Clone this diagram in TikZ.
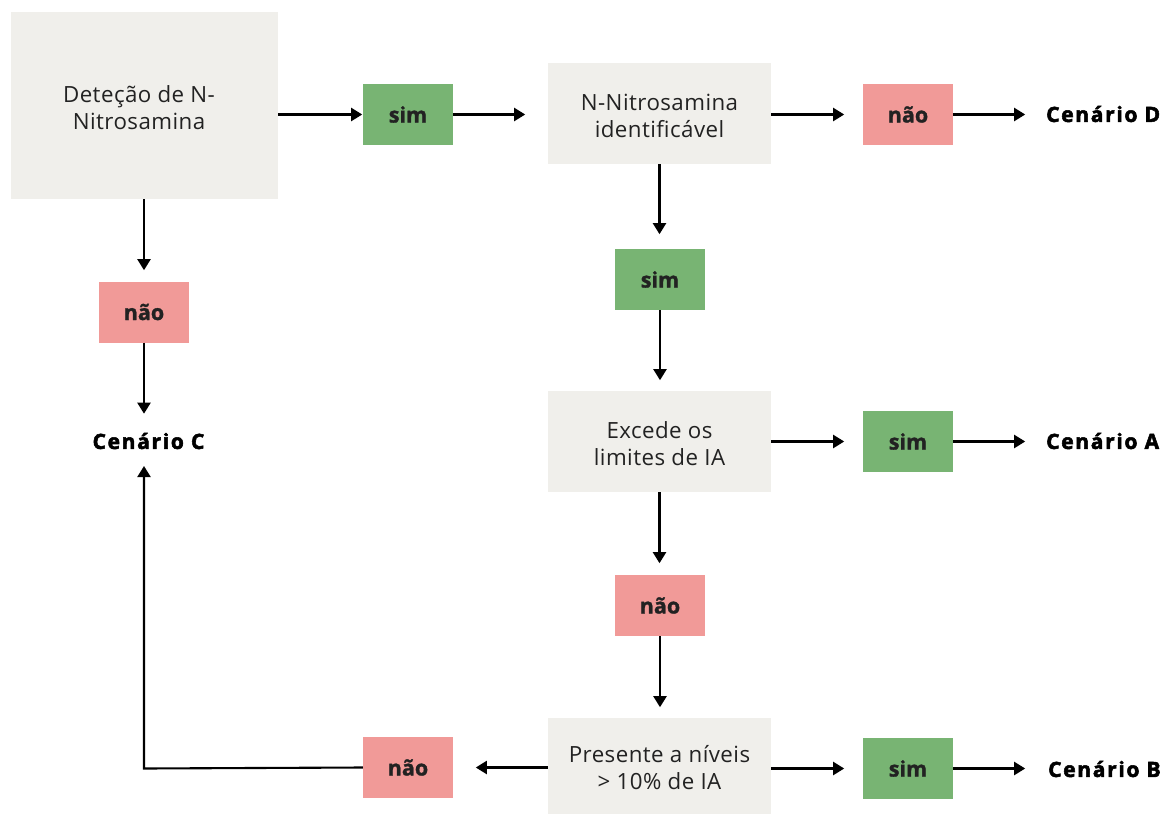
\documentclass[tikz,border=0pt]{standalone}
\usepackage{fontspec}
\setmainfont{Open Sans}
\newfontfamily\spacedfont[LetterSpace=2]{Open Sans}
\newfontfamily\widefont[LetterSpace=8,BoldFeatures={FakeBold=2.5,LetterSpace=8}]{Open Sans}
\newfontfamily\labelfont[BoldFeatures={FakeBold=1.2}]{Open Sans}
\usetikzlibrary{arrows.meta}
\definecolor{boxgrey}{HTML}{F0EFEB}
\definecolor{yesgreen}{HTML}{78B473}
\definecolor{nopink}{HTML}{F19A98}
\definecolor{txt}{HTML}{222222}
\begin{document}
\begin{tikzpicture}[x=1pt,y=-1pt,
  qbox/.style={fill=boxgrey,inner sep=0pt},
  qtext/.style={inner sep=0pt,align=center,text=txt,
    font=\spacedfont\fontsize{22.3}{27}\selectfont},
  yesbox/.style={fill=yesgreen,minimum width=90pt,minimum height=61pt,inner sep=0pt,
    text=txt,font=\labelfont\fontsize{21.5}{24}\bfseries\selectfont},
  nobox/.style={fill=nopink,minimum width=90pt,minimum height=61pt,inner sep=0pt,
    text=txt,font=\labelfont\fontsize{21.5}{24}\bfseries\selectfont},
  scen/.style={inner sep=0pt,text=black,font=\widefont\fontsize{21}{24}\bfseries\selectfont},
  arr/.style={-{Triangle[length=11pt,width=13pt]},line width=2.1pt,black}]
\useasboundingbox (0,0) rectangle (1173,814);
% question boxes
\node[qbox,minimum width=267pt,minimum height=187pt] (det) at (144.5,105.5) {};
\node[qtext] (detT) at (139,108) {Deteção de N-\\Nitrosamina};
\node[qbox,minimum width=223pt,minimum height=101pt] (nn) at (659.5,113.5) {};
\node[qtext] (nnT) at (659.5,115.5) {N-Nitrosamina\\identificável};
\node[qbox,minimum width=223pt,minimum height=101pt] (exc) at (659.5,441.5) {};
\node[qtext] (excT) at (659.5,443.5) {Excede os\\limites de IA};
\node[qbox,minimum width=223pt,minimum height=96pt] (pres) at (659.5,766) {};
\node[qtext] (presT) at (659.5,768) {Presente a níveis\\> 10\% de IA};
% answer boxes
\node[yesbox] (s1) at (408,114.5) {sim};
\node[nobox] (nD) at (908,114.5) {não};
\node[yesbox] (s2) at (660,279.5) {sim};
\node[yesbox] (sA) at (908,441.5) {sim};
\node[nobox] (n2) at (660,605.5) {não};
\node[yesbox] (sB) at (908,768.5) {sim};
\node[nobox] (nL) at (408,767.5) {não};
\node[nobox] (nC) at (144,312) {não};
% scenarios
\node[scen,anchor=west] (cD) at (1046,114) {Cenário D};
\node[scen,anchor=west] (cA) at (1046,441) {Cenário A};
\node[scen,anchor=west] (cB) at (1048,769) {Cenário B};
\node[scen] (cC) at (148.5,441) {Cenário C};
% connectors
\draw[arr] (det.east |- s1) -- ++(84,0);
\draw[arr] (s1.east) -- ++(72,0);
\draw[arr] (nn.east |- nD) -- ++(73,0);
\draw[arr] (nD.east) -- ++(72,0);
\draw[arr] (nn.south) -- ++(0,70);
\draw[arr] (s2.south) -- ++(0,70);
\draw[arr] (exc.east) -- ++(73,0);
\draw[arr] (sA.east) -- ++(72,0);
\draw[arr] (exc.south) -- ++(0,71);
\draw[arr] (n2.south) -- ++(0,71);
\draw[arr] (pres.east |- sB) -- ++(73,0);
\draw[arr] (sB.east) -- ++(72,0);
\draw[arr] (pres.west |- nL) -- ++(-72,0);
\draw[arr] (det.south -| nC) -- ++(0,71);
\draw[arr] (nC.south) -- ++(0,71);
\coordinate (bend) at (144,768.5);
\coordinate (cCin) at (144,466);
\draw[arr] (nL.west) -- (bend) -- (cCin);
\end{tikzpicture}
\end{document}
